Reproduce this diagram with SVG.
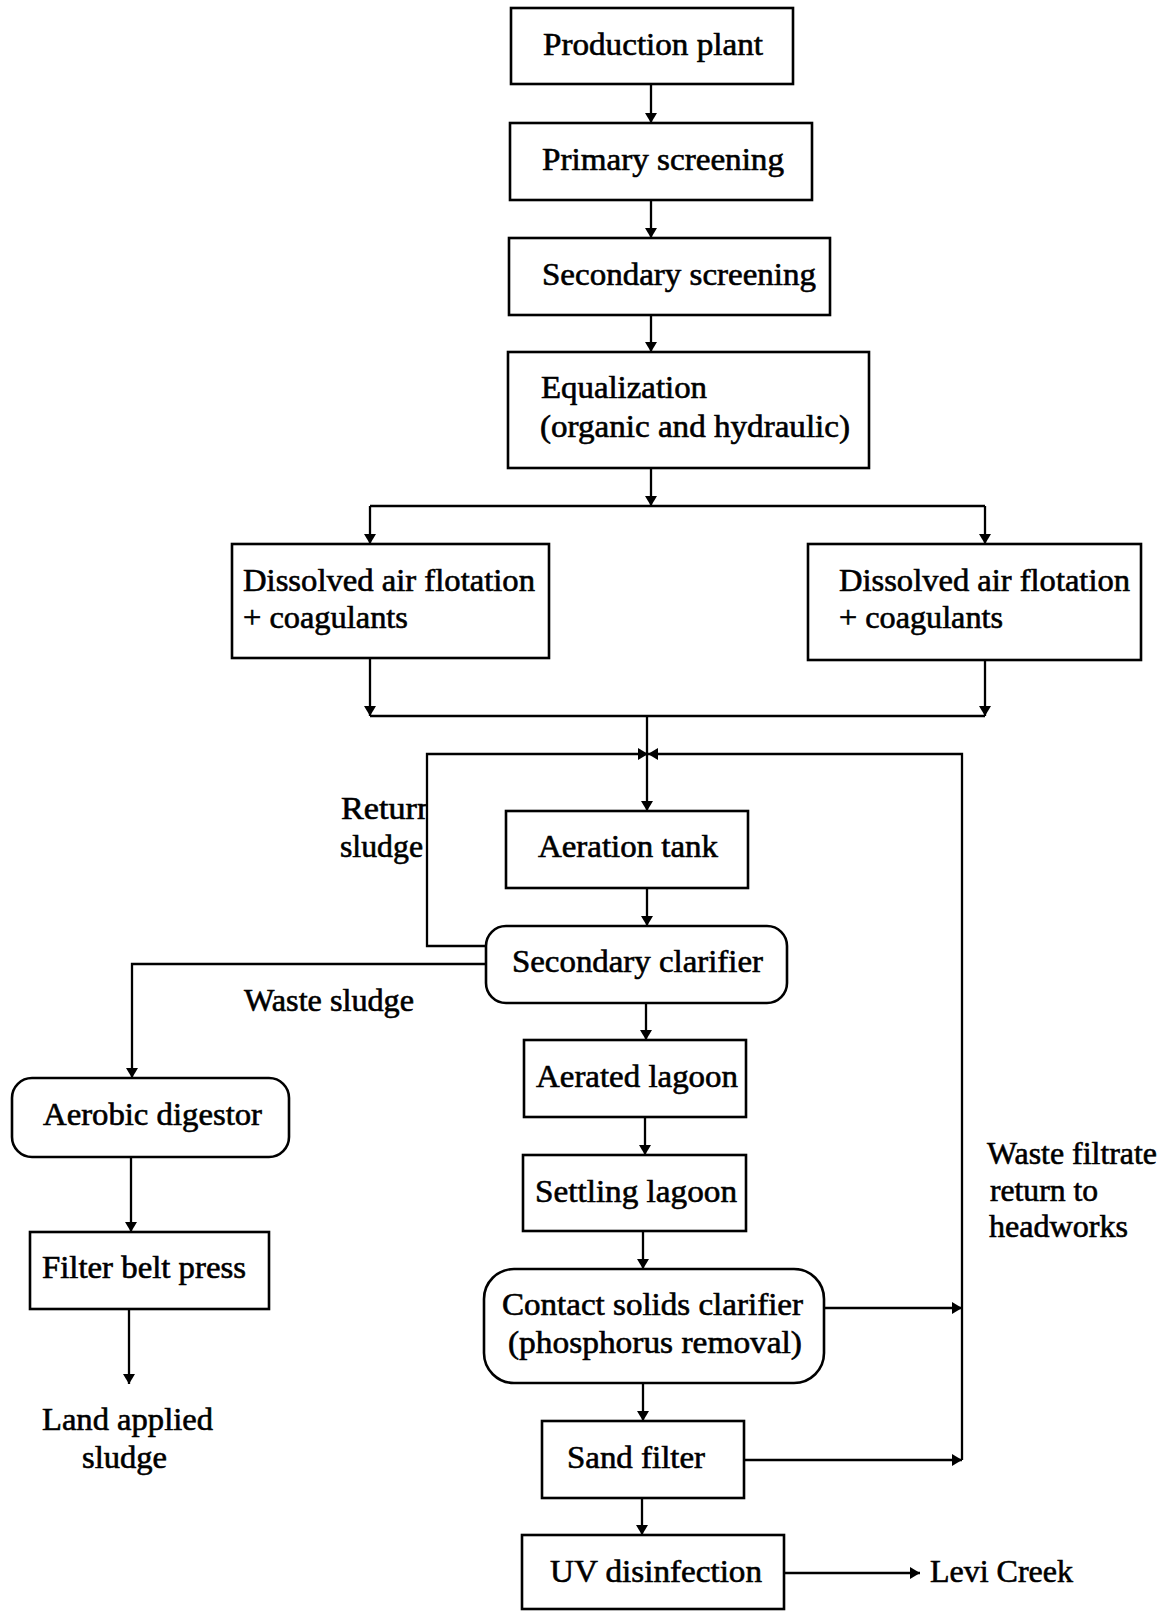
<svg xmlns="http://www.w3.org/2000/svg" width="1163" height="1611" viewBox="0 0 1163 1611">
  <style>
    .box { fill: #fff; stroke: #000; stroke-width: 2.6; }
    .wire { fill: none; stroke: #000; stroke-width: 2.3; }
    .arr { marker-end: url(#head); }
    text { font-family: "Liberation Serif", "Times New Roman", serif; font-size: 31px; fill: #000; stroke: #000; stroke-width: 0.6; }
  </style>
  <defs>
    <marker id="head" markerUnits="userSpaceOnUse" markerWidth="11" markerHeight="12" refX="10" refY="6" orient="auto">
      <path d="M0,0 L10,6 L0,12 Z" fill="#000"/>
    </marker>
    <clipPath id="cut-return">
      <rect x="300" y="780" width="126" height="100"/>
    </clipPath>
  </defs>

  <rect width="1163" height="1611" fill="#fff"/>

  <!-- flow lines -->
  <g id="connectors">
    <path class="wire arr" d="M651,84 V123"/>
    <path class="wire arr" d="M651,200 V238"/>
    <path class="wire arr" d="M651,315 V352"/>
    <path class="wire arr" d="M651,468 V506"/>
    <path class="wire" d="M370,506 H985"/>
    <path class="wire arr" d="M370,506 V544"/>
    <path class="wire arr" d="M985,506 V544"/>
    <path class="wire arr" d="M370,658 V716"/>
    <path class="wire arr" d="M985,660 V716"/>
    <path class="wire" d="M370,716 H985"/>
    <path class="wire arr" d="M647,716 V811"/>
    <!-- return sludge loop -->
    <path class="wire arr" d="M486,946 H427 V754 H648"/>
    <!-- waste filtrate return to headworks -->
    <path class="wire arr" d="M962,1460 V754 H648"/>
    <path class="wire arr" d="M647,888 V926"/>
    <!-- waste sludge line -->
    <path class="wire arr" d="M486,964 H132 V1078"/>
    <path class="wire arr" d="M131,1157 V1232"/>
    <path class="wire arr" d="M129,1309 V1384"/>
    <path class="wire arr" d="M646,1003 V1040"/>
    <path class="wire arr" d="M645,1117 V1155"/>
    <path class="wire arr" d="M643,1231 V1269"/>
    <path class="wire arr" d="M824,1308 H962"/>
    <path class="wire arr" d="M643,1383 V1421"/>
    <path class="wire arr" d="M744,1460 H962"/>
    <path class="wire arr" d="M642,1498 V1535"/>
    <path class="wire arr" d="M784,1573 H920"/>
  </g>

  <g id="production-plant">
    <rect class="box" x="511" y="8" width="282" height="76"/>
    <text x="543" y="55" textLength="220" lengthAdjust="spacingAndGlyphs">Production plant</text>
  </g>
  <g id="primary-screening">
    <rect class="box" x="510" y="123" width="302" height="77"/>
    <text x="542" y="170" textLength="242" lengthAdjust="spacingAndGlyphs">Primary screening</text>
  </g>
  <g id="secondary-screening">
    <rect class="box" x="509" y="238" width="321" height="77"/>
    <text x="542" y="285" textLength="274" lengthAdjust="spacingAndGlyphs">Secondary screening</text>
  </g>
  <g id="equalization">
    <rect class="box" x="508" y="352" width="361" height="116"/>
    <text x="541" y="398" textLength="166" lengthAdjust="spacingAndGlyphs">Equalization</text>
    <text x="540" y="437" textLength="310" lengthAdjust="spacingAndGlyphs">(organic and hydraulic)</text>
  </g>
  <g id="daf-left">
    <rect class="box" x="232" y="544" width="317" height="114"/>
    <text x="243" y="591" textLength="292" lengthAdjust="spacingAndGlyphs">Dissolved air flotation</text>
    <text x="243" y="628" textLength="165" lengthAdjust="spacingAndGlyphs">+ coagulants</text>
  </g>
  <g id="daf-right">
    <rect class="box" x="808" y="544" width="333" height="116"/>
    <text x="839" y="591" textLength="291" lengthAdjust="spacingAndGlyphs">Dissolved air flotation</text>
    <text x="839" y="628" textLength="164" lengthAdjust="spacingAndGlyphs">+ coagulants</text>
  </g>
  <g id="return-sludge-label">
    <text x="341" y="819" textLength="93" lengthAdjust="spacingAndGlyphs" clip-path="url(#cut-return)">Return</text>
    <text x="340" y="857" textLength="83" lengthAdjust="spacingAndGlyphs">sludge</text>
  </g>
  <g id="aeration-tank">
    <rect class="box" x="506" y="811" width="242" height="77"/>
    <text x="538" y="857" textLength="180" lengthAdjust="spacingAndGlyphs">Aeration tank</text>
  </g>
  <g id="secondary-clarifier">
    <rect class="box" x="486" y="926" width="301" height="77" rx="20" ry="20"/>
    <text x="512" y="972" textLength="251" lengthAdjust="spacingAndGlyphs">Secondary clarifier</text>
  </g>
  <g id="waste-sludge-label">
    <text x="244" y="1011" textLength="170" lengthAdjust="spacingAndGlyphs">Waste sludge</text>
  </g>
  <g id="aerobic-digestor">
    <rect class="box" x="12" y="1078" width="277" height="79" rx="20" ry="20"/>
    <text x="43" y="1125" textLength="219" lengthAdjust="spacingAndGlyphs">Aerobic digestor</text>
  </g>
  <g id="filter-belt-press">
    <rect class="box" x="30" y="1232" width="239" height="77"/>
    <text x="42" y="1278" textLength="204" lengthAdjust="spacingAndGlyphs">Filter belt press</text>
  </g>
  <g id="land-applied-sludge">
    <text x="42" y="1430" textLength="171" lengthAdjust="spacingAndGlyphs">Land applied</text>
    <text x="82" y="1468" textLength="85" lengthAdjust="spacingAndGlyphs">sludge</text>
  </g>
  <g id="aerated-lagoon">
    <rect class="box" x="524" y="1040" width="222" height="77"/>
    <text x="536" y="1087" textLength="202" lengthAdjust="spacingAndGlyphs">Aerated lagoon</text>
  </g>
  <g id="settling-lagoon">
    <rect class="box" x="523" y="1155" width="223" height="76"/>
    <text x="535" y="1202" textLength="202" lengthAdjust="spacingAndGlyphs">Settling lagoon</text>
  </g>
  <g id="contact-solids-clarifier">
    <rect class="box" x="484" y="1269" width="340" height="114" rx="30" ry="30"/>
    <text x="502" y="1315" textLength="301" lengthAdjust="spacingAndGlyphs">Contact solids clarifier</text>
    <text x="508" y="1353" textLength="294" lengthAdjust="spacingAndGlyphs">(phosphorus removal)</text>
  </g>
  <g id="sand-filter">
    <rect class="box" x="542" y="1421" width="202" height="77"/>
    <text x="567" y="1468" textLength="138" lengthAdjust="spacingAndGlyphs">Sand filter</text>
  </g>
  <g id="uv-disinfection">
    <rect class="box" x="522" y="1535" width="262" height="74"/>
    <text x="550" y="1582" textLength="212" lengthAdjust="spacingAndGlyphs">UV disinfection</text>
  </g>
  <g id="levi-creek">
    <text x="930" y="1582" textLength="143" lengthAdjust="spacingAndGlyphs">Levi Creek</text>
  </g>
  <g id="waste-filtrate-label">
    <text x="987" y="1164" textLength="170" lengthAdjust="spacingAndGlyphs">Waste filtrate</text>
    <text x="990" y="1201" textLength="108" lengthAdjust="spacingAndGlyphs">return to</text>
    <text x="989" y="1237" textLength="139" lengthAdjust="spacingAndGlyphs">headworks</text>
  </g>
</svg>
